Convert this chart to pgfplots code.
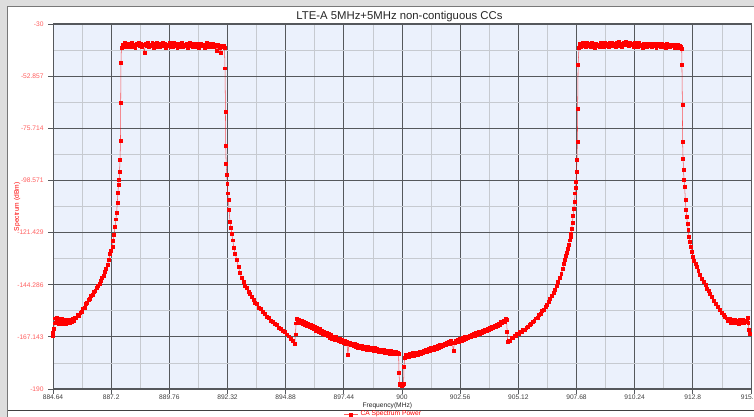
\documentclass[border=0pt]{standalone}
\usepackage{fontspec}
\setmainfont{Liberation Sans}
\usepackage{pgfplots}
\usepackage{pgfplotstable}
\pgfplotsset{compat=1.18}

\definecolor{plotbg}{RGB}{235,241,252}
\definecolor{majorgrid}{RGB}{85,88,92}
\definecolor{minorgrid}{RGB}{198,202,208}
\definecolor{ticklbl}{RGB}{255,95,95}
\definecolor{winbg}{RGB}{222,222,222}
\definecolor{framegray}{RGB}{120,120,120}

% CA spectrum, frequency in MHz, power in dBm
\pgfplotstableread{
f p
884.64 -166.8
884.65 -165.2
884.67 -163.4
884.70 -161.2
884.73 -159.0
884.76 -160.8
884.79 -158.6
884.82 -160.2
884.86 -159.4
884.90 -161.3
884.94 -159.9
884.98 -160.9
885.02 -159.3
885.06 -161.5
885.10 -160.1
885.14 -161.0
885.18 -159.7
885.22 -161.6
885.26 -160.4
885.30 -161.1
885.34 -159.8
885.38 -160.9
885.42 -159.6
885.46 -160.7
885.50 -159.4
885.55 -159.9
885.60 -158.6
885.66 -158.9
885.72 -157.6
885.78 -157.8
885.84 -156.4
885.90 -156.1
885.96 -154.6
886.02 -154.3
886.08 -152.8
886.14 -152.4
886.20 -150.9
886.26 -150.4
886.32 -149.1
886.38 -148.6
886.44 -147.5
886.50 -147.0
886.56 -145.6
886.62 -144.9
886.68 -143.9
886.74 -142.6
886.80 -141.4
886.86 -140.2
886.92 -138.8
886.98 -137.4
887.04 -135.6
887.10 -133.2
887.15 -130.8
887.20 -129.6
887.25 -127.6
887.29 -125.0
887.33 -122.2
887.37 -119.0
887.41 -115.6
887.44 -112.8
887.47 -108.2
887.50 -103.8
887.52 -100.6
887.55 -98.4
887.57 -94.8
887.59 -89.4
887.61 -81.2
887.62 -64.5
887.63 -47.2
887.65 -40.4
887.66 -40.2
887.71 -38.9
887.76 -39.6
887.81 -38.4
887.86 -39.9
887.91 -38.7
887.96 -40.1
888.01 -38.5
888.06 -39.4
888.11 -38.2
888.16 -39.8
888.21 -38.9
888.26 -40.4
888.31 -38.6
888.36 -39.3
888.41 -38.1
888.46 -39.7
888.51 -38.8
888.56 -40.0
888.61 -39.2
888.66 -42.6
888.71 -38.7
888.76 -39.5
888.81 -38.3
888.86 -40.2
888.91 -38.9
888.96 -39.6
889.01 -38.4
889.06 -40.5
889.11 -38.8
889.16 -39.4
889.21 -38.2
889.26 -39.9
889.31 -38.6
889.36 -40.1
889.41 -39.0
889.46 -38.3
889.51 -39.7
889.56 -38.5
889.61 -40.3
889.66 -38.9
889.71 -39.5
889.76 -38.1
889.81 -39.8
889.86 -38.7
889.91 -40.0
889.96 -38.4
890.01 -39.6
890.06 -38.8
890.11 -40.4
890.16 -39.1
890.21 -38.5
890.26 -39.9
890.31 -38.3
890.36 -40.2
890.41 -38.9
890.46 -39.4
890.51 -38.6
890.56 -40.6
890.61 -39.0
890.66 -38.4
890.71 -39.7
890.76 -38.8
890.81 -40.1
890.86 -39.2
890.91 -38.5
890.96 -39.8
891.01 -38.7
891.06 -40.3
891.11 -39.0
891.16 -38.6
891.21 -39.5
891.26 -38.9
891.31 -40.5
891.36 -39.1
891.41 -38.4
891.46 -39.9
891.51 -38.8
891.56 -40.2
891.61 -39.3
891.66 -38.7
891.71 -40.0
891.76 -38.9
891.81 -39.6
891.86 -41.9
891.91 -39.2
891.96 -40.4
892.01 -42.8
892.06 -39.5
892.11 -40.1
892.16 -39.4
892.19 -40.6
892.21 -49.4
892.23 -68.4
892.24 -83.5
892.26 -91.1
892.29 -96.2
892.31 -100.1
892.33 -104.2
892.36 -107.2
892.39 -111.5
892.43 -116.7
892.47 -119.5
892.51 -121.8
892.55 -124.8
892.60 -128.0
892.66 -130.6
892.73 -133.5
892.80 -136.4
892.87 -139.1
892.94 -141.2
893.02 -143.0
893.09 -144.6
893.16 -145.8
893.24 -147.4
893.31 -148.2
893.39 -149.7
893.46 -150.8
893.53 -152.2
893.61 -152.8
893.68 -154.2
893.77 -155.0
893.86 -156.3
893.95 -156.9
894.05 -158.4
894.14 -158.9
894.23 -160.2
894.32 -160.5
894.41 -161.6
894.49 -162.0
894.58 -163.0
894.67 -163.5
894.76 -164.3
894.85 -164.9
894.94 -166.0
895.03 -166.9
895.12 -167.9
895.21 -169.0
895.28 -170.1
895.31 -166.0
895.34 -161.2
895.37 -159.4
895.42 -160.6
895.47 -159.6
895.52 -161.0
895.57 -160.2
895.62 -161.6
895.67 -160.4
895.72 -161.9
895.77 -161.0
895.82 -162.4
895.87 -161.3
895.92 -162.9
895.97 -161.8
896.02 -163.2
896.07 -162.4
896.12 -163.8
896.17 -162.9
896.22 -164.3
896.27 -163.3
896.32 -164.9
896.37 -163.8
896.42 -165.2
896.47 -164.6
896.52 -165.8
896.57 -164.9
896.62 -166.4
896.67 -165.5
896.72 -166.9
896.77 -165.9
896.82 -167.4
896.87 -166.4
896.92 -167.8
896.97 -166.9
897.02 -168.3
897.07 -167.3
897.12 -168.6
897.17 -167.8
897.22 -169.0
897.27 -168.1
897.32 -169.4
897.37 -168.6
897.42 -169.8
897.47 -168.9
897.52 -170.1
897.57 -169.2
897.62 -175.0
897.66 -170.3
897.71 -169.6
897.76 -170.8
897.81 -170.0
897.86 -171.2
897.91 -170.3
897.96 -171.5
898.01 -170.6
898.06 -171.8
898.11 -170.9
898.16 -172.0
898.21 -171.1
898.26 -172.3
898.31 -171.4
898.36 -172.5
898.41 -171.5
898.46 -172.6
898.51 -171.6
898.56 -172.7
898.61 -171.8
898.66 -172.9
898.71 -172.0
898.76 -173.1
898.81 -172.1
898.86 -173.3
898.91 -172.4
898.96 -173.5
899.01 -172.6
899.06 -173.7
899.11 -172.7
899.16 -173.9
899.21 -173.0
899.26 -174.1
899.31 -173.1
899.36 -174.2
899.41 -173.3
899.46 -174.4
899.51 -173.4
899.56 -174.5
899.61 -173.6
899.66 -174.7
899.71 -173.7
899.76 -174.5
899.81 -174.0
899.85 -174.4
899.87 -183.0
899.89 -187.6
899.92 -188.3
899.96 -188.1
900.00 -188.4
900.04 -188.0
900.07 -187.6
900.09 -180.2
900.12 -176.2
900.16 -175.2
900.21 -176.0
900.26 -174.9
900.31 -175.7
900.36 -174.6
900.41 -175.4
900.46 -174.3
900.51 -175.6
900.56 -174.4
900.61 -175.2
900.66 -174.1
900.71 -174.9
900.76 -173.8
900.81 -174.6
900.86 -173.5
900.91 -174.2
900.96 -173.1
901.01 -173.9
901.06 -172.8
901.11 -173.6
901.16 -172.5
901.21 -173.2
901.26 -172.1
901.31 -172.9
901.36 -171.8
901.41 -172.6
901.46 -171.4
901.51 -172.3
901.56 -171.1
901.61 -171.8
901.66 -170.7
901.71 -171.5
901.76 -170.4
901.81 -171.1
901.86 -170.0
901.91 -170.8
901.96 -169.6
902.01 -170.4
902.06 -169.3
902.11 -170.0
902.16 -168.9
902.21 -169.7
902.26 -173.2
902.31 -169.8
902.36 -168.8
902.41 -169.5
902.46 -168.4
902.51 -169.1
902.56 -168.1
902.61 -168.8
902.66 -167.7
902.71 -168.4
902.76 -167.3
902.81 -168.0
902.86 -166.9
902.91 -167.6
902.96 -166.6
903.01 -167.2
903.06 -166.2
903.11 -166.9
903.16 -165.8
903.21 -166.5
903.26 -165.4
903.31 -166.1
903.36 -165.0
903.41 -165.7
903.46 -164.7
903.51 -165.4
903.56 -164.3
903.61 -165.0
903.66 -163.9
903.71 -164.6
903.76 -163.5
903.81 -164.2
903.86 -163.1
903.91 -163.8
903.96 -162.7
904.01 -163.3
904.06 -162.2
904.11 -162.9
904.16 -161.8
904.21 -162.4
904.26 -161.2
904.31 -161.8
904.36 -160.7
904.41 -161.2
904.46 -160.1
904.51 -160.5
904.56 -159.4
904.60 -159.8
904.63 -165.0
904.65 -169.4
904.70 -168.9
904.76 -168.8
904.82 -167.7
904.88 -167.5
904.94 -166.7
905.00 -166.6
905.06 -165.9
905.12 -165.9
905.19 -165.1
905.26 -164.9
905.33 -164.0
905.40 -163.9
905.47 -163.0
905.54 -162.8
905.61 -161.9
905.68 -161.6
905.75 -160.6
905.82 -160.2
905.89 -159.0
905.96 -158.6
906.03 -157.5
906.10 -157.1
906.17 -155.8
906.24 -155.3
906.31 -154.0
906.38 -153.0
906.45 -151.8
906.52 -150.6
906.59 -149.1
906.66 -147.8
906.73 -146.3
906.80 -144.7
906.87 -143.1
906.94 -141.2
907.01 -139.3
907.07 -137.5
907.13 -135.3
907.18 -133.5
907.22 -131.8
907.26 -130.1
907.30 -128.4
907.34 -126.6
907.38 -124.8
907.41 -123.3
907.44 -121.8
907.47 -119.8
907.50 -117.0
907.53 -114.0
907.56 -111.1
907.59 -108.0
907.62 -104.2
907.64 -101.6
907.66 -99.1
907.68 -94.7
907.70 -89.6
907.72 -81.6
907.73 -67.0
907.75 -48.0
907.79 -40.3
907.84 -38.6
907.89 -39.8
907.94 -38.3
907.99 -39.5
908.04 -38.9
908.09 -40.2
908.14 -38.4
908.19 -39.7
908.24 -38.8
908.29 -40.0
908.34 -38.2
908.39 -39.4
908.44 -38.7
908.49 -40.3
908.54 -38.5
908.59 -39.6
908.64 -38.9
908.69 -40.1
908.74 -38.3
908.79 -39.2
908.84 -38.6
908.89 -39.9
908.94 -38.1
908.99 -39.5
909.04 -38.8
909.09 -40.2
909.14 -38.4
909.19 -39.3
909.24 -38.0
909.29 -39.6
909.34 -38.7
909.39 -40.0
909.44 -38.3
909.49 -39.4
909.54 -37.9
909.59 -39.1
909.64 -38.5
909.69 -39.8
909.74 -38.2
909.79 -39.3
909.84 -37.8
909.89 -39.0
909.94 -38.4
909.99 -39.7
910.04 -38.1
910.09 -39.2
910.14 -38.6
910.19 -39.9
910.24 -38.3
910.29 -39.5
910.34 -38.8
910.39 -40.1
910.44 -38.4
910.49 -39.6
910.54 -38.9
910.59 -40.3
910.64 -38.6
910.69 -39.4
910.74 -38.7
910.79 -40.0
910.84 -38.5
910.89 -39.7
910.94 -38.9
910.99 -40.2
911.04 -38.6
911.09 -39.5
911.14 -38.8
911.19 -40.4
911.24 -38.7
911.29 -39.6
911.34 -38.9
911.39 -40.1
911.44 -38.5
911.49 -39.8
911.54 -39.0
911.59 -40.3
911.64 -38.8
911.69 -39.7
911.74 -39.1
911.79 -40.2
911.84 -38.9
911.89 -39.6
911.94 -39.2
911.99 -40.4
912.04 -39.0
912.09 -39.8
912.14 -39.3
912.19 -40.5
912.24 -39.4
912.29 -40.0
912.31 -40.7
912.32 -48.0
912.34 -65.5
912.35 -81.6
912.37 -88.9
912.39 -94.0
912.41 -98.1
912.44 -101.3
912.47 -107.2
912.50 -111.5
912.53 -114.6
912.56 -117.4
912.60 -120.4
912.63 -123.2
912.67 -125.5
912.71 -127.6
912.76 -129.9
912.80 -132.0
912.86 -133.6
912.92 -135.2
912.97 -136.4
913.04 -138.2
913.11 -139.8
913.19 -141.6
913.27 -143.1
913.35 -144.3
913.42 -145.9
913.49 -147.1
913.56 -148.4
913.63 -149.6
913.72 -151.2
913.81 -152.6
913.90 -154.0
914.00 -155.4
914.07 -156.6
914.15 -157.6
914.22 -158.5
914.29 -159.0
914.35 -160.2
914.41 -159.3
914.47 -160.8
914.53 -159.6
914.58 -161.2
914.64 -159.8
914.70 -161.0
914.76 -160.1
914.82 -161.4
914.88 -159.7
914.94 -160.9
915.00 -159.5
915.06 -161.2
915.12 -159.9
915.17 -160.6
915.21 -158.9
915.24 -161.0
915.27 -164.2
915.32 -165.6
}\spectrum

\begin{document}
\begin{tikzpicture}[x=0.75pt,y=0.75pt]
\useasboundingbox (0,0) rectangle (754,417);
\fill[winbg] (0,0) rectangle (754,417);
\fill[white] (7.5,-10) rectangle (770,410.5);
\draw[framegray, line width=0.75pt] (7.5,-10) -- (7.5,410.5) -- (770,410.5);
\draw[black!75, line width=0.6pt] (7.5,6.3) -- (770,6.3);

\begin{axis}[
 at={(39.75pt,21pt)}, anchor=south west,
 scale only axis,
 width=523.5pt, height=273.75pt,
 xmin=884.64, xmax=915.36,
 ymin=-190, ymax=-30,
 xtick={884.64,887.2,889.76,892.32,894.88,897.44,900,902.56,905.12,907.68,910.24,912.8,915.36},
 xticklabels={884.64,887.2,889.76,892.32,894.88,897.44,900,902.56,905.12,907.68,910.24,912.8,915.36},
 ytick={-190,-167.142857,-144.285714,-121.428571,-98.571429,-75.714286,-52.857143,-30},
 yticklabels={-190,-167.143,-144.286,-121.429,-98.571,-75.714,-52.857,-30},
 minor x tick num=1,
 minor y tick num=1,
 grid=both,
 major grid style={majorgrid, line width=0.6pt},
 minor grid style={minorgrid, line width=0.6pt},
 axis line style={majorgrid, line width=0.75pt},
 axis background/.style={fill=plotbg},
 tick align=outside,
 xtick pos=bottom, ytick pos=left,
 major tick length=3.5pt,
 minor tick length=0pt,
 tick style={majorgrid, line width=0.6pt},
 y tick label style={font=\fontsize{5}{6}\selectfont, text=ticklbl},
 x tick label style={font=\fontsize{5}{6}\selectfont, text=black!75, yshift=2.4pt},
 title={LTE-A 5MHz+5MHz non-contiguous CCs},
 title style={font=\fontsize{8.5}{10}\selectfont, text=black!85,
   at={(axis description cs:0.4964,1.019)}, anchor=center, yshift=-6pt},
 xlabel={Frequency(MHz)},
 xlabel style={font=\fontsize{5}{6}\selectfont, text=black!85,
   at={(axis description cs:0.479,-0.0466)}, anchor=center},
 ylabel={Spectrum (dBm)},
 ylabel style={font=\fontsize{5}{6}\selectfont, text=red,
   at={(axis description cs:-0.0515,0.499)}, anchor=center},
 legend style={at={(axis description cs:0.474,-0.0695)}, anchor=center,
   draw=none, fill=none, font=\fontsize{5}{6}\selectfont, text=red,
   inner sep=0pt},
 legend image code/.code={
   \draw[mark repeat=2, mark phase=2, #1] plot coordinates {(0pt,0pt) (5pt,0pt) (10pt,0pt)};
 },
]
\addplot[red, line width=0.4pt, draw opacity=0.65,
  mark=square*, mark size=1.1pt,
  mark options={solid, fill=red, draw=red, draw opacity=1}]
  table[x=f, y=p] {\spectrum};
\legend{CA Spectrum Power}
\end{axis}
\end{tikzpicture}
\end{document}
